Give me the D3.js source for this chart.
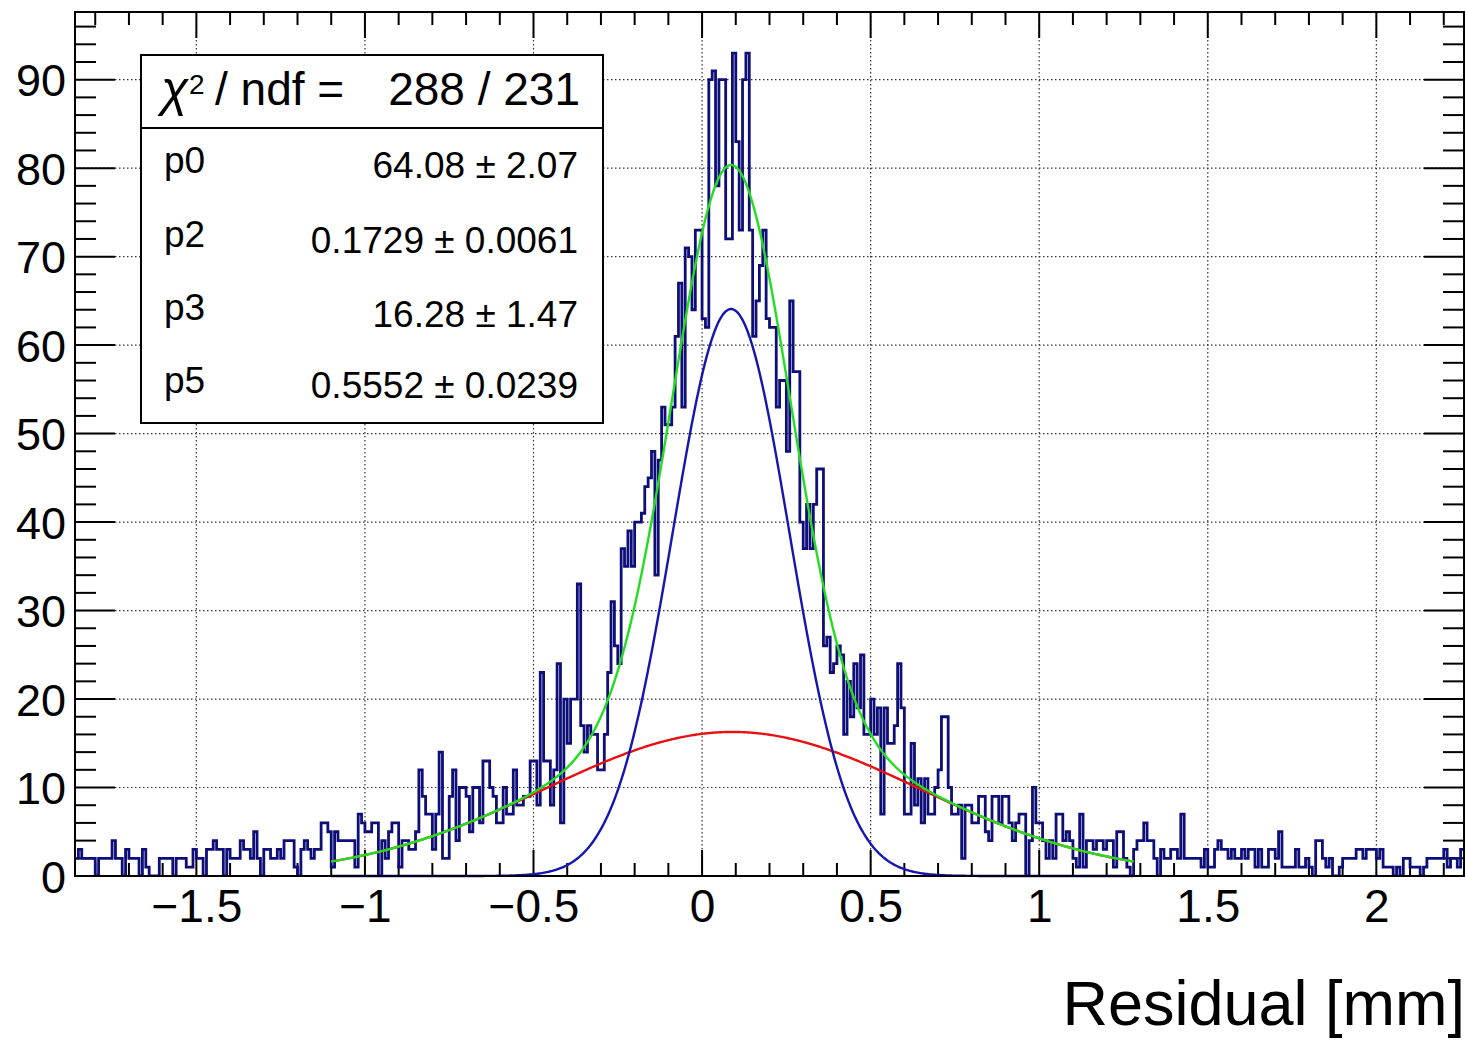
<!DOCTYPE html>
<html><head><meta charset="utf-8">
<script src="https://cdn.jsdelivr.net/npm/d3@7"></script>
<style>
body{margin:0;background:#fff}
svg{display:block}
text{font-family:"Liberation Sans",Arial,Helvetica,sans-serif;fill:#000}
</style>
</head><body>
<svg id="chart" width="1466" height="1042"></svg>
<script>
// ---------- data ----------
const xMin = -1.86;
const binWidth = 0.01;
const counts = [
 2,3,2,2,2,2,0,2,2,2,
 2,4,2,2,0,3,2,2,2,0,
 3,1,0,0,0,2,2,2,2,0,
 2,2,2,1,1,3,2,2,0,3,
 3,4,3,3,0,3,2,2,2,4,
 3,3,2,5,2,0,3,3,2,2,
 3,2,4,4,4,1,0,3,4,3,
 2,3,3,6,6,5,1,5,4,4,
 4,4,4,1,7,6,5,5,6,6,
 0,4,2,5,6,6,1,4,4,3,
 3,5,12,9,7,7,3,7,14,2,
 2,9,12,4,10,10,9,5,10,10,
 6,13,13,10,9,6,6,10,7,7,
 12,8,8,9,9,13,13,8,23,13,
 13,8,12,24,6,20,15,20,20,33,
 17,14,17,16,16,12,12,16,23,31,
 26,24,37,35,39,35,40,40,41,44,
 45,48,34,47,53,51,51,53,61,67,
 53,71,70,64,73,73,63,62,90,91,
 78,90,90,72,72,93,83,73,90,93,
 73,61,65,69,73,63,62,62,53,56,
 56,48,65,57,57,40,37,42,37,42,
 46,46,26,27,23,24,26,25,16,22,
 18,24,19,25,16,16,20,16,19,7,
 19,15,15,17,24,19,7,7,15,8,
 11,6,11,7,7,10,12,18,18,10,
 7,7,8,2,8,8,6,6,9,9,
 5,4,9,9,6,9,9,6,4,6,
 7,7,0,4,10,6,6,4,2,4,
 2,7,7,4,5,4,2,1,7,1,
 4,4,3,4,4,3,4,4,1,5,
 5,2,1,0,3,4,4,6,4,4,
 2,0,3,2,2,3,3,2,7,2,
 2,2,2,2,1,3,1,1,3,4,
 3,3,2,3,2,2,3,2,3,3,
 1,3,1,1,3,3,2,5,1,1,
 1,1,3,1,1,2,1,0,4,4,
 2,1,2,0,0,1,2,2,2,2,
 3,3,2,3,3,3,2,3,1,1,
 1,0,1,0,2,2,1,1,1,0,
 1,2,2,2,2,2,3,1,2,2,
 1,3
];
// fit: two gaussians (amplitude, mean, sigma)
const narrowGauss = [64.08, 0.086, 0.1729];
const wideGauss = [16.28, 0.09, 0.5552];
const fitRange = [-1.1, 1.28];
const statNames = ["p0", "p2", "p3", "p5"];
const statValues = ["64.08 \u00b1 2.07", "0.1729 \u00b1 0.0061", "16.28 \u00b1 1.47", "0.5552 \u00b1 0.0239"];
const chiText = "288 / 231";
const xTicks = [-1.5, -1, -0.5, 0, 0.5, 1, 1.5, 2];
const yTicks = [0, 10, 20, 30, 40, 50, 60, 70, 80, 90];
const xTitle = "Residual [mm]";

// ---------- layout ----------
const svg = d3.select("#chart");
const L = 75, R = 1464, T = 12, B = 876;
const xMax = xMin + binWidth * counts.length;
const yMax = d3.max(counts) * 1.05;
const x = d3.scaleLinear().domain([xMin, xMax]).range([L, R]);
const y = d3.scaleLinear().domain([0, yMax]).range([B, T]);
const fmt = d3.format("~g");

// grid
const grid = svg.append("g").attr("stroke", "#333").attr("stroke-width", 1.2).attr("stroke-dasharray", "1.5,2.5");
grid.selectAll(".gx").data(xTicks).join("line")
  .attr("x1", d => x(d)).attr("x2", d => x(d)).attr("y1", T).attr("y2", B);
grid.selectAll(".gy").data(yTicks.filter(d => d > 0)).join("line")
  .attr("x1", L).attr("x2", R).attr("y1", d => y(d)).attr("y2", d => y(d));

// ticks
const xMinor = d3.range(-1.8, 2.26, 0.1).map(v => +v.toFixed(2));
const yMinor = d3.range(0, yMax, 2);
const tk = svg.append("g").attr("stroke", "#000").attr("stroke-width", 2);
xMinor.forEach(v => {
  const major = xTicks.some(t => Math.abs(t - v) < 1e-6);
  const len = major ? 26 : 13;
  tk.append("line").attr("x1", x(v)).attr("x2", x(v)).attr("y1", B).attr("y2", B - len);
  tk.append("line").attr("x1", x(v)).attr("x2", x(v)).attr("y1", T).attr("y2", T + len);
});
yMinor.forEach(v => {
  const major = v % 10 === 0;
  const len = major ? 40 : 21;
  tk.append("line").attr("x1", L).attr("x2", L + len).attr("y1", y(v)).attr("y2", y(v));
  tk.append("line").attr("x1", R).attr("x2", R - len).attr("y1", y(v)).attr("y2", y(v));
});

// axes labels via d3 axes
const xAxis = d3.axisBottom(x).tickValues(xTicks).tickFormat(fmt).tickSize(0).tickPadding(13);
svg.append("g").attr("transform", `translate(0,${B})`).call(xAxis)
  .call(g => g.select(".domain").remove())
  .selectAll("text").attr("font-size", 46).attr("font-family", "Liberation Sans, Arial, sans-serif").attr("fill", "#000");
const yAxis = d3.axisLeft(y).tickValues(yTicks).tickFormat(fmt).tickSize(0).tickPadding(9);
svg.append("g").attr("transform", `translate(${L},0)`).call(yAxis)
  .call(g => g.select(".domain").remove())
  .selectAll("text").attr("font-size", 45).attr("font-family", "Liberation Sans, Arial, sans-serif").attr("fill", "#000").attr("dy", "0.36em");

svg.append("text").attr("x", 1465).attr("y", 1025).attr("text-anchor", "end")
  .attr("font-size", 63).text(xTitle);

// histogram
svg.append("clipPath").attr("id", "frameClip").append("rect")
  .attr("x", L).attr("y", T).attr("width", R - L).attr("height", B - T);
const pts = counts.map((c, i) => [xMin + i * binWidth, c]);
pts.push([xMax, counts[counts.length - 1]]);
const step = d3.line().x(d => x(d[0])).y(d => y(d[1])).curve(d3.curveStepAfter);
svg.append("path").attr("clip-path", "url(#frameClip)")
  .attr("d", step(pts)).attr("fill", "none").attr("stroke", "#0e0e78").attr("stroke-width", 2.8);

// fit curves
const gauss = (p, v) => p[0] * Math.exp(-0.5 * Math.pow((v - p[1]) / p[2], 2));
const xs = d3.range(fitRange[0], fitRange[1] + 1e-9, 0.004);
const curve = d3.line().x(d => x(d[0])).y(d => y(d[1]));
svg.append("path").attr("d", curve(xs.map(v => [v, gauss(wideGauss, v)])))
  .attr("fill", "none").attr("stroke", "#e81010").attr("stroke-width", 2.4);
svg.append("path").attr("d", curve(xs.map(v => [v, gauss(narrowGauss, v)])))
  .attr("fill", "none").attr("stroke", "#1515b0").attr("stroke-width", 2.4);
svg.append("path").attr("d", curve(xs.map(v => [v, gauss(narrowGauss, v) + gauss(wideGauss, v)])))
  .attr("fill", "none").attr("stroke", "#22dd22").attr("stroke-width", 2.4);

// frame
svg.append("rect").attr("x", L).attr("y", T).attr("width", R - L).attr("height", B - T)
  .attr("fill", "none").attr("stroke", "#000").attr("stroke-width", 2);

// stats box
const box = svg.append("g");
box.append("rect").attr("x", 141).attr("y", 55).attr("width", 462).attr("height", 368)
  .attr("fill", "#fff").attr("stroke", "#000").attr("stroke-width", 2);
box.append("line").attr("x1", 141).attr("x2", 603).attr("y1", 128).attr("y2", 128)
  .attr("stroke", "#000").attr("stroke-width", 2);
box.append("text").attr("x", 161).attr("y", 106).attr("font-size", 50)
  .attr("font-family", "Liberation Serif, Times New Roman, serif").attr("font-style", "italic").text("\u03c7");
box.append("text").attr("x", 189).attr("y", 94).attr("font-size", 28).text("2");
box.append("text").attr("x", 215).attr("y", 105).attr("font-size", 46).text("/ ndf =");
box.append("text").attr("x", 580).attr("y", 105).attr("font-size", 46).attr("text-anchor", "end").text(chiText);
const rowLab = [173, 247, 320, 393];
const rowVal = [178, 253, 327, 398];
statNames.forEach((n, i) => {
  box.append("text").attr("x", 164).attr("y", rowLab[i]).attr("font-size", 37).text(n);
  box.append("text").attr("x", 578).attr("y", rowVal[i]).attr("font-size", 37).attr("text-anchor", "end").text(statValues[i]);
});
</script>
</body></html>
